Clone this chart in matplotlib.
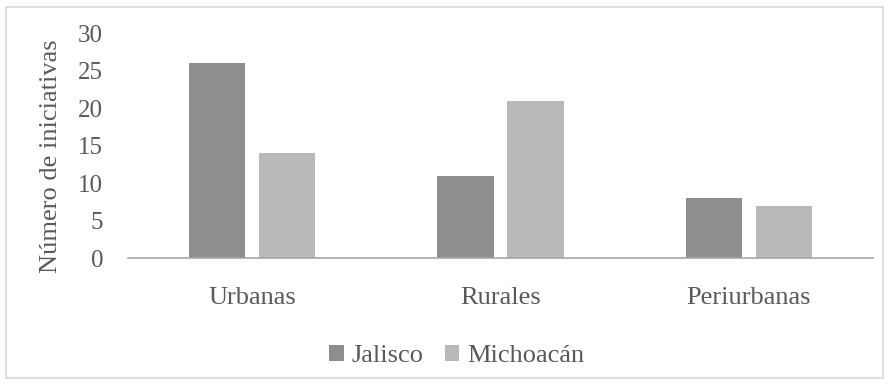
import numpy as np
import matplotlib.pyplot as plt
from matplotlib.patches import Rectangle

categories = ["Urbanas", "Rurales", "Periurbanas"]
jalisco = [26, 11, 8]
michoacan = [14, 21, 7]
yticks = [0, 5, 10, 15, 20, 25, 30]

plt.rcParams["font.family"] = ["Liberation Serif", "DejaVu Serif"]
text_color = "#595959"

fig = plt.figure(figsize=(8.89, 3.84), dpi=100)
ax = fig.add_axes([0.144, 0.328, 0.838, 0.586])

x = np.arange(len(categories))
w = 0.226
off = 0.141
ax.bar(x - off, jalisco, w, color="#8e8e8e", label="Jalisco")
ax.bar(x + off, michoacan, w, color="#b8baba", label="Michoacán")

ax.set_xlim(-0.5, len(categories) - 0.5)
ax.set_ylim(0, 30)
ax.set_yticks(yticks)
ax.set_xticks(x)
ax.set_xticklabels(categories)
ax.tick_params(axis="both", length=0, colors=text_color)
ax.tick_params(axis="x", pad=21, labelsize=19)
ax.tick_params(axis="y", pad=18, labelsize=18)

for s in ["top", "right", "left"]:
    ax.spines[s].set_visible(False)
ax.spines["bottom"].set_color("#a6a6a6")
ax.spines["bottom"].set_linewidth(1.2)

ax.set_ylabel("Número de iniciativas", color=text_color, fontsize=19)
ax.yaxis.set_label_coords(-0.089, 0.453)

fig.legend(loc="center", bbox_to_anchor=(0.514, 0.073), ncol=2, frameon=False,
           fontsize=19, labelcolor=text_color, handlelength=0.55, handleheight=0.55,
           handletextpad=0.3, columnspacing=0.8)

# light outer frame around the whole figure
fig.patches.append(Rectangle((0.007, 0.015), 0.986, 0.967, transform=fig.transFigure,
                             fill=False, edgecolor="#d9d9d9", linewidth=1.2))

fig.savefig("out.png", dpi=100)
